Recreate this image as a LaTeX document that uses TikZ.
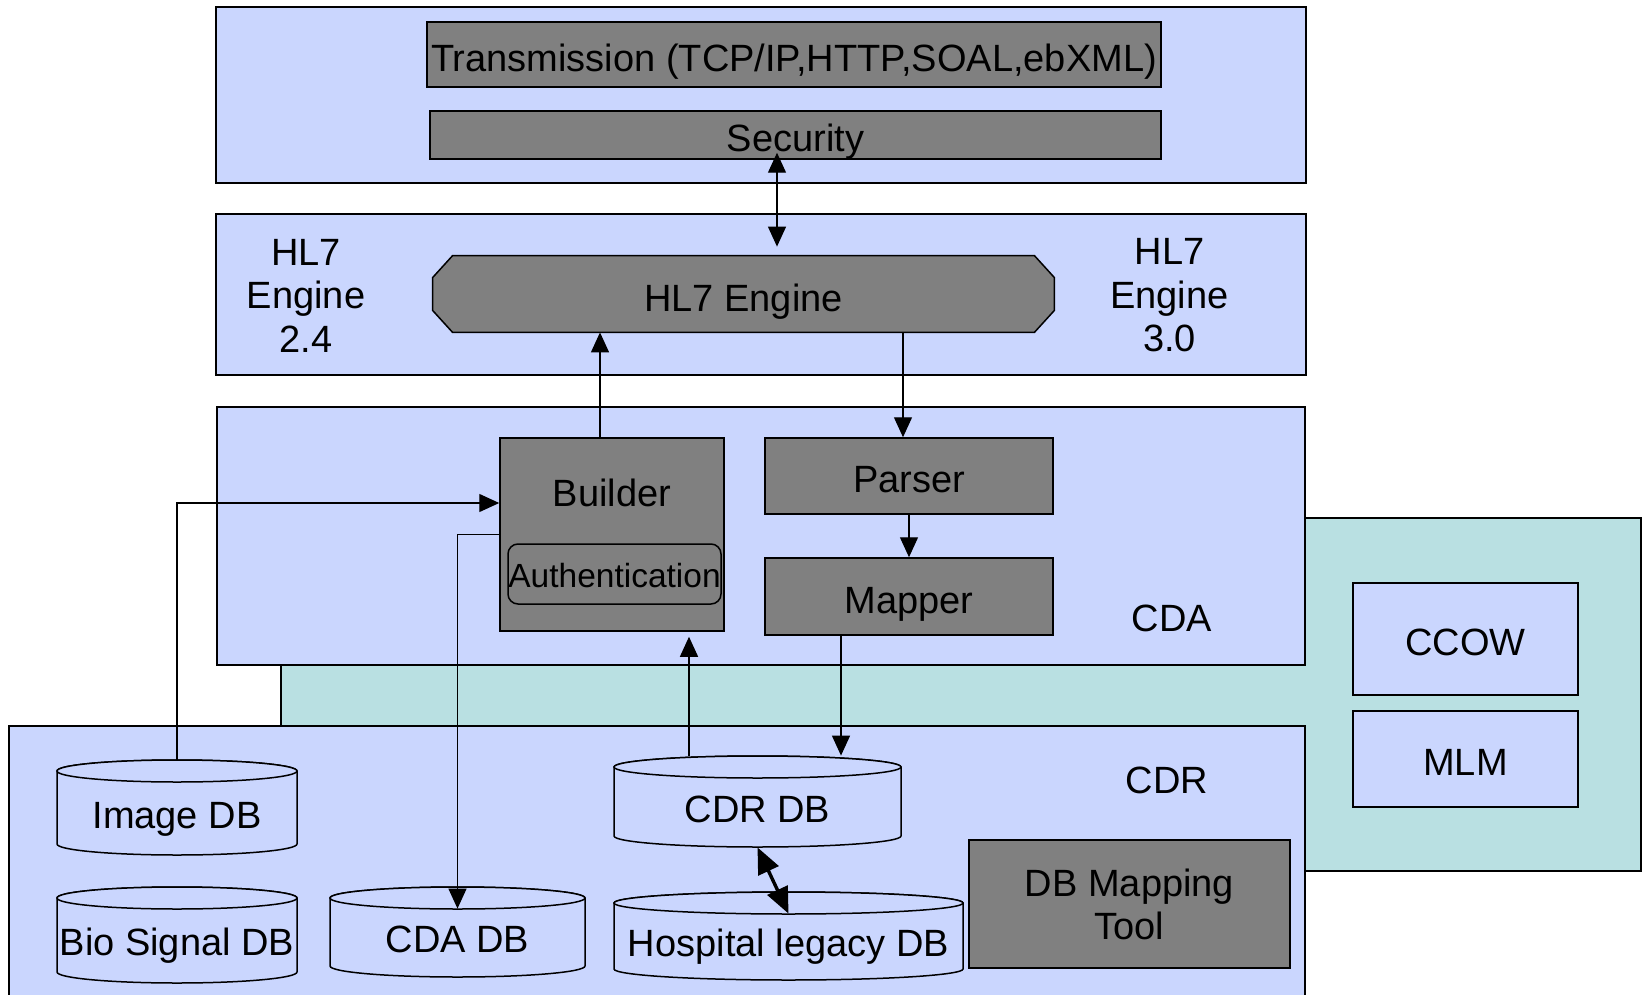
\documentclass[tikz,border=0pt]{standalone}
\usepackage{fontspec}
\setmainfont{Liberation Sans}
\usetikzlibrary{arrows.meta}
\definecolor{lb}{RGB}{202,214,254}
\definecolor{tl}{RGB}{185,224,226}
\definecolor{dg}{RGB}{128,128,128}
\newcommand{\dbcyl}[6]{%
  \pgfmathsetmacro{\cylcx}{(#2+#4)/2}%
  \pgfmathsetmacro{\cylrx}{(#4-#2)/4}%
  \pgfmathsetmacro{\cylcy}{(#3+#5)/2}%
  \pgfmathsetmacro{\cylty}{(#3+22+#5)/2-4}%
  \pgfmathsetmacro{\cylw}{(#4-#2)/2}%
  \pgfmathsetmacro{\cylh}{(#5-#3)/2}%
  \filldraw[cylst] (#2,#3+11) -- (#2,#5-11)
     arc[start angle=180,end angle=360,x radius=\cylrx pt,y radius=5.5pt]
     -- (#4,#3+11)
     arc[start angle=0,end angle=180,x radius=\cylrx pt,y radius=5.5pt] -- cycle;
  \draw[cylst] (\cylcx,#3+11) ellipse[x radius=\cylrx pt,y radius=5.5pt];
  \node[minimum width=\cylw pt,minimum height=\cylh pt,inner sep=0pt] (#1) at (\cylcx,\cylcy) {};
  \node[capc] (#1-t) at (\cylcx,\cylty) {#6};
}
\begin{document}
\begin{tikzpicture}[x=0.5pt,y=-0.5pt,
  font=\fontsize{19}{21.75}\selectfont,
  capc/.style={text height=13.6pt,text depth=0pt,inner sep=0pt},
  lowc/.style={text height=16.6pt,text depth=0pt,inner sep=0pt},
  panel/.style={draw=black,line width=1pt,fill=lb,rectangle,inner sep=0pt},
  gbox/.style={draw=black,line width=0.75pt,fill=dg,rectangle,lowc},
  bbox/.style={draw=black,line width=0.75pt,fill=lb,rectangle,lowc},
  cylst/.style={draw=black,line width=0.75pt,fill=lb},
  lbl/.style={inner sep=0pt,align=center},
  arr/.style={line width=0.65pt,-{Triangle[length=10pt,width=9pt]}},
  darr/.style={line width=0.65pt,{Triangle[length=10pt,width=9pt]}-{Triangle[length=10pt,width=9pt]}},
  tarr/.style={line width=1.7pt,{Triangle[length=13pt,width=11pt]}-{Triangle[length=13pt,width=11pt]}}]
\useasboundingbox (0,0) rectangle (1644,995);
\clip (0,0) rectangle (1644,995);

% helper coordinates
\coordinate (c777) at (777,0);
\coordinate (c600) at (600,0);
\coordinate (c903) at (903,0);
\coordinate (c841) at (841,0);
\coordinate (c689) at (689,0);

% top panel
\node[panel,minimum width=545pt,minimum height=88pt] (top) at (761,95) {};
\node[gbox,minimum width=367pt,minimum height=32.5pt] (trans) at (794,54.5) {Transmission (TCP/IP,HTTP,SOAL,ebXML)};
\node[gbox,minimum width=365.5pt,minimum height=24pt] (sec) at (795.5,135) {Security};

% HL7 panel
\node[panel,minimum width=545pt,minimum height=80.5pt] (hl7) at (761,294.5) {};
\node[minimum width=310.5pt,minimum height=38pt,inner sep=0pt] (engine) at (743.5,294) {};
\filldraw[draw=black,line width=0.75pt,fill=dg]
  ([xshift=10pt]engine.north west) -- ([xshift=-10pt]engine.north east)
  -- ([yshift=-11pt]engine.north east) -- ([yshift=11pt]engine.south east)
  -- ([xshift=-10pt]engine.south east) -- ([xshift=10pt]engine.south west)
  -- ([yshift=11pt]engine.south west) -- ([yshift=-11pt]engine.north west) -- cycle;
\node[capc] (engine-t) at (743.5,298) {HL7 Engine};
\node[lbl] (v24) at (306,295.5) {HL7\\Engine\\2.4};
\node[lbl] (v30) at (1169.5,295.5) {HL7\\Engine\\3.0};

% teal extension, CDA and CDR panels
\node[draw=black,line width=1pt,fill=tl,minimum width=680pt,minimum height=176.5pt,inner sep=0pt] (ext) at (961,694.5) {};
\node[panel,minimum width=544pt,minimum height=129pt] (cda) at (761,536) {};
\node[panel,minimum width=648pt,minimum height=142pt] (cdr) at (657,868) {};

% CDA contents
\node[gbox,minimum width=112pt,minimum height=96.5pt] (builder) at (612,534.5) {};
\node[capc] (builder-t) at (612,493) {Builder};
\node[gbox,rounded corners=5pt,minimum width=106.5pt,minimum height=30pt,
      font=\fontsize{16.75}{20}\selectfont,text height=13pt] (auth) at (614.5,574) {Authentication};
\node[gbox,minimum width=144pt,minimum height=38pt] (parser) at (909,476) {Parser};
\node[gbox,minimum width=144pt,minimum height=38.5pt] (mapper) at (909,596.5) {Mapper};
\node[capc] (cdalbl) at (1172,618) {CDA};

% right side
\node[bbox,minimum width=112.5pt,minimum height=56pt] (ccow) at (1465.5,639) {CCOW};
\node[bbox,minimum width=112.5pt,minimum height=48pt] (mlm) at (1465.5,759) {MLM};

% CDR contents
\node[capc] (cdrlbl) at (1167,780) {CDR};
\node[draw=black,line width=0.75pt,fill=dg,minimum width=160.5pt,minimum height=64pt,
      align=center,inner sep=0pt,text depth=-2.6pt] (dbmap) at (1129.5,904) {DB Mapping\\Tool};
\dbcyl{imagedb}{57}{760}{297}{855}{Image DB}
\dbcyl{biodb}{57}{887}{297}{983}{Bio Signal DB}
\dbcyl{cdadb}{330}{887}{585}{977}{CDA DB}
\dbcyl{cdrdb}{614}{756}{901}{847}{CDR DB}
\dbcyl{hospdb}{614}{892}{963}{980}{Hospital legacy DB}

% connectors
\draw[darr,shorten <=-3.5pt,shorten >=4.5pt] (sec.south -| c777) -- (engine.north -| c777);
\draw[arr] (builder.north -| c600) -- (engine.south -| c600);
\draw[arr] (engine.south -| c903) -- (parser.north -| c903);
\draw[arr] (parser) -- (mapper);
\draw[arr] (mapper.south -| c841) -- (cdrdb.north -| c841);
\draw[arr,shorten >=2.5pt] (cdrdb.north -| c689) -- (builder.south -| c689);
\draw[arr] (imagedb.north) |- ([yshift=15.75pt]builder.west);
\draw[arr] (builder.west) -| ([yshift=-11pt]cdadb.north);
\draw[tarr] (cdrdb.south) -- ([yshift=-11pt]hospdb.north);
\end{tikzpicture}
\end{document}
